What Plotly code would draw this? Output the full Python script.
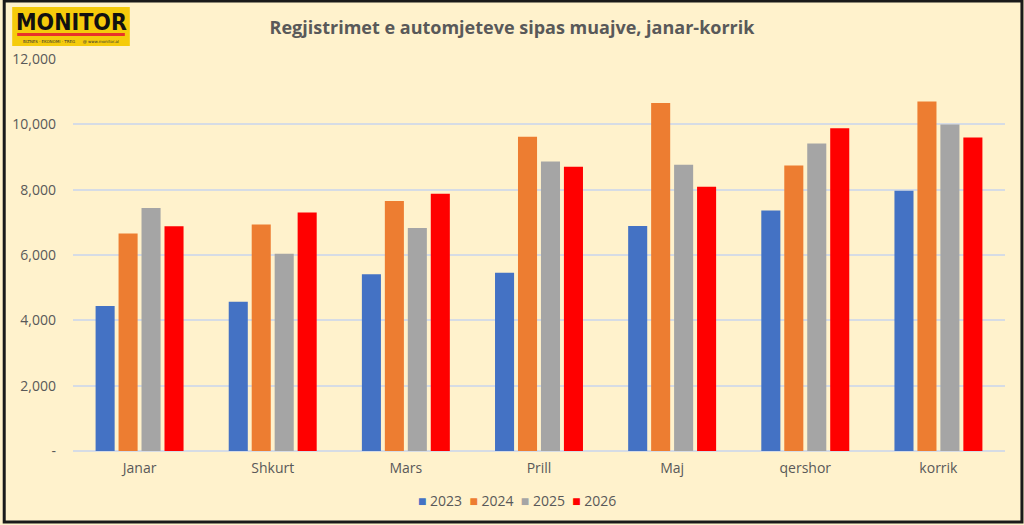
import plotly.graph_objects as go

months = ["Janar", "Shkurt", "Mars", "Prill", "Maj", "qershor", "korrik"]
years = ["2023", "2024", "2025", "2026"]
v2023 = [4440, 4570, 5410, 5460, 6890, 7360, 7970]
v2024 = [6655, 6930, 7650, 9620, 10650, 8740, 10700]
v2025 = [7440, 6040, 6830, 8860, 8760, 9410, 9995]
v2026 = [6880, 7300, 7875, 8700, 8090, 9880, 9600]
series = [v2023, v2024, v2025, v2026]
colors = ["#4472C4", "#ED7D31", "#A5A5A5", "#FF0000"]
tick_vals = [0, 2000, 4000, 6000, 8000, 10000, 12000]
tick_text = ["-", "2,000", "4,000", "6,000", "8,000", "10,000", "12,000"]

fig = go.Figure()
for name, vals, col in zip(years, series, colors):
    fig.add_trace(go.Bar(x=months, y=vals, name=name, marker=dict(color=col, line=dict(width=0)),
                         showlegend=False))

font_fam = "Open Sans, Liberation Sans, sans-serif"
L, R, T, B = 70, 19, 59, 74
PW, PH = 1024 - L - R, 525 - T - B

def px_x(px):
    return (px - L) / PW

def px_y(py):
    return (525 - B - py) / PH

fig.update_layout(
    width=1024, height=525,
    paper_bgcolor="#FFF2CC", plot_bgcolor="#FFF2CC",
    margin=dict(l=L, r=R, t=T, b=B),
    barmode="group", bargap=0.31, bargroupgap=0.17,
    font=dict(family=font_fam, color="#595959", size=14),
    title=dict(text="<b>Regjistrimet e automjeteve sipas muajve, janar-korrik</b>",
               x=0.5, xanchor="center", y=1 - 28 / 525, yanchor="middle",
               font=dict(size=18, color="#595959", family=font_fam)),
    xaxis=dict(showgrid=False, showline=False, ticks="", ticklabelstandoff=7,
               tickfont=dict(size=14, color="#595959")),
    yaxis=dict(range=[0, 12000], tickvals=tick_vals, ticktext=tick_text,
               showgrid=True, gridcolor="#D6DCE5", gridwidth=1.5, zeroline=True,
               zerolinecolor="#D6DCE5", zerolinewidth=1.5, ticks="", ticklabelstandoff=16,
               tickfont=dict(size=14, color="#595959")),
    showlegend=False,
)

# custom legend (small squares like the original)
legend_text = "&nbsp;&nbsp;".join(
    f"<span style='color:{c}'>■</span> {y}" for y, c in zip(years, colors))
fig.add_annotation(xref="paper", yref="paper", x=px_x(515), y=px_y(500), text=legend_text,
                   showarrow=False, xanchor="center", yanchor="middle",
                   font=dict(size=14, color="#595959", family=font_fam))

# outer border
fig.add_shape(type="rect", xref="paper", yref="paper", x0=px_x(1), x1=px_x(1022),
              y0=px_y(522), y1=px_y(1), line=dict(color="#1a1a1a", width=3),
              fillcolor="rgba(0,0,0,0)", layer="above")
# logo
fig.add_shape(type="rect", xref="paper", yref="paper", x0=px_x(9), x1=px_x(127), y0=px_y(46), y1=px_y(7),
              fillcolor="#F5CB0B", line=dict(width=0))
fig.add_shape(type="rect", xref="paper", yref="paper", x0=px_x(14), x1=px_x(122), y0=px_y(36), y1=px_y(33),
              fillcolor="#E8322A", line=dict(width=0))
fig.add_annotation(xref="paper", yref="paper", x=px_x(68), y=px_y(22), text="<b>MONITOR</b>",
                   showarrow=False,
                   font=dict(family="DejaVu Sans Condensed, DejaVu Sans, sans-serif", size=23, color="#111111"),
                   xanchor="center", yanchor="middle")
fig.add_annotation(xref="paper", yref="paper", x=px_x(68), y=px_y(41),
                   text="BIZNES · EKONOMI · TREG      @ www.monitor.al", showarrow=False,
                   font=dict(family="DejaVu Sans, sans-serif", size=4, color="#333333"),
                   xanchor="center", yanchor="middle")

fig.write_html("out.html", config={"displayModeBar": False},
               post_script="document.body.style.margin='0';document.body.style.overflow='hidden';")
